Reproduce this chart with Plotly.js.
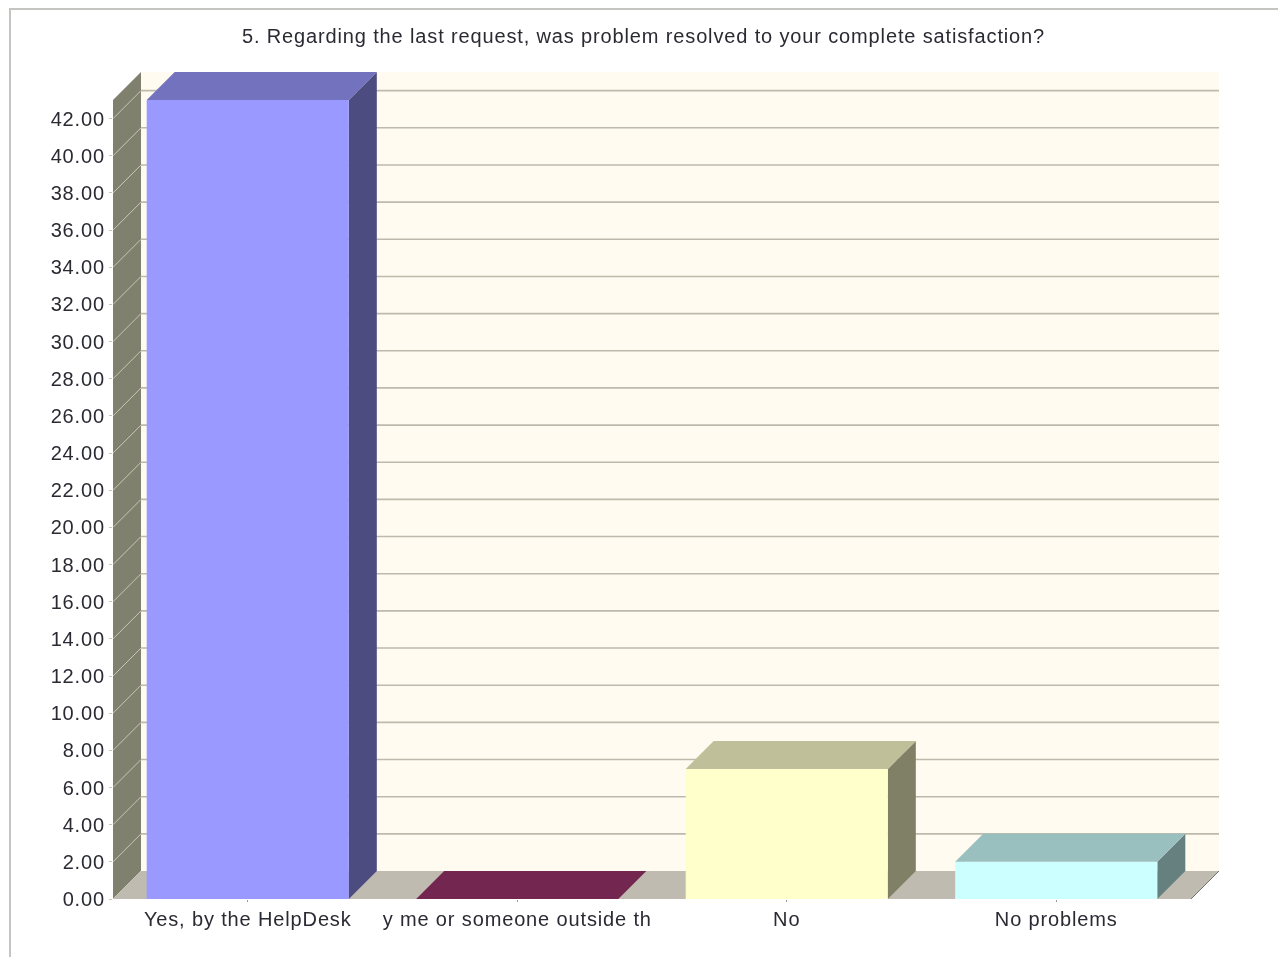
<!DOCTYPE html>
<html>
<head>
<meta charset="utf-8">
<script src="https://cdn.plot.ly/plotly-3.0.1.min.js"></script>
<style>
html,body{margin:0;padding:0;background:#fff;overflow:hidden}
#frame{position:absolute;left:9px;top:8px;width:1269px;height:949px;border-left:2px solid #c4c4c0;border-top:2px solid #c4c4c0;box-sizing:border-box}
#chart{position:absolute;left:0;top:0;width:1278px;height:957px;filter:blur(0.45px)}
#chart svg text{letter-spacing:0.86px}
</style>
</head>
<body>
<div id="frame"></div>
<div id="chart"></div>
<script>
const chartTitle = '5. Regarding the last request, was problem resolved to your complete satisfaction?';
const categories = ['Yes, by the HelpDesk', 'y me or someone outside th', 'No', 'No problems'];
const values = [43, 0, 7, 2];
const faceColors = ['#9999ff', '#993366', '#ffffcc', '#ccffff'];
const topColors = ['#7272bf', '#732650', '#bfbf99', '#99bfbf'];
const sideColors = ['#4c4c80', '#4d1933', '#808066', '#668080'];
const yTicks = [0,2,4,6,8,10,12,14,16,18,20,22,24,26,28,30,32,34,36,38,40,42];

// 3D depth, expressed in axis units
const pxPerCat = 269.5, pxPerUnit = 18.58, depthPx = 28;
const dx = depthPx / pxPerCat, dy = depthPx / pxPerUnit;
const halfBar = 0.375;
const xMin = -0.5, xMax = categories.length - 0.5;
const yTop = 43;

function poly(xs, ys, color) {
  return {type:'scatter', mode:'lines', x:xs.concat(xs[0]), y:ys.concat(ys[0]), fill:'toself',
    fillcolor:color, line:{width:0, color:color}, hoverinfo:'skip', showlegend:false};
}
function seg(xs, ys, color, width) {
  return {type:'scatter', mode:'lines', x:xs, y:ys, line:{color:color, width:width}, hoverinfo:'skip', showlegend:false};
}
const traces = [];
// back wall
traces.push(poly([xMin+dx,xMax+dx,xMax+dx,xMin+dx],[dy,dy,yTop+dy,yTop+dy],'#fffbf0'));
// left wall
traces.push(poly([xMin,xMin+dx,xMin+dx,xMin],[0,dy,yTop+dy,yTop],'#80806f'));
// floor
traces.push(poly([xMin,xMax,xMax+dx,xMin+dx],[0,0,dy,dy],'#bfbbb0'));
traces.push(seg([xMax,xMax+dx],[0,dy],'#77776c',1));
// grid lines
yTicks.forEach(function(v){
  if (v > 0) {
    traces.push(seg([xMin+dx,xMax+dx],[v+dy,v+dy],'#bdbaac',1.6));
  }
  traces.push(seg([xMin,xMin+dx],[v,v+dy],'#c8c6b4',1));
});
// bars
values.forEach(function(v,i){
  const l = i-halfBar, r = i+halfBar;
  if (v > 0) {
    traces.push(poly([r,r+dx,r+dx,r],[0,dy,v+dy,v],sideColors[i]));
    traces.push(poly([l,r,r,l],[0,0,v,v],faceColors[i]));
  }
  traces.push(poly([l,r,r+dx,l+dx],[v,v,v+dy,v+dy],topColors[i]));
});

const tickFont = {family:'Liberation Sans, Arial, sans-serif', size:20, color:'#2a2a33'};
const layout = {
  width:1278, height:957,
  margin:{l:113,r:59,t:71,b:58,pad:0},
  paper_bgcolor:'rgba(0,0,0,0)', plot_bgcolor:'rgba(0,0,0,0)',
  showlegend:false,
  title:{text:chartTitle, x:643.5/1278, xanchor:'center', xref:'container', y:1-36/957, yanchor:'middle',
    font:{family:'Liberation Sans, Arial, sans-serif', size:20, color:'#2a2a33'}},
  xaxis:{range:[xMin,xMax+dx], tickmode:'array', tickvals:categories.map(function(c,i){return i;}), ticktext:categories,
    showgrid:false, zeroline:false, showline:false, ticks:'outside', ticklen:2, tickcolor:'#999', tickfont:tickFont, fixedrange:true},
  yaxis:{range:[0,828/pxPerUnit], tickmode:'array', tickvals:yTicks, ticktext:yTicks.map(function(v){return v.toFixed(2);}),
    showgrid:false, zeroline:false, showline:false, ticks:'outside', ticklen:3, tickcolor:'#c8c6b4', tickfont:tickFont, fixedrange:true}
};
Plotly.newPlot('chart', traces, layout, {displayModeBar:false, staticPlot:true});
</script>
</body>
</html>
